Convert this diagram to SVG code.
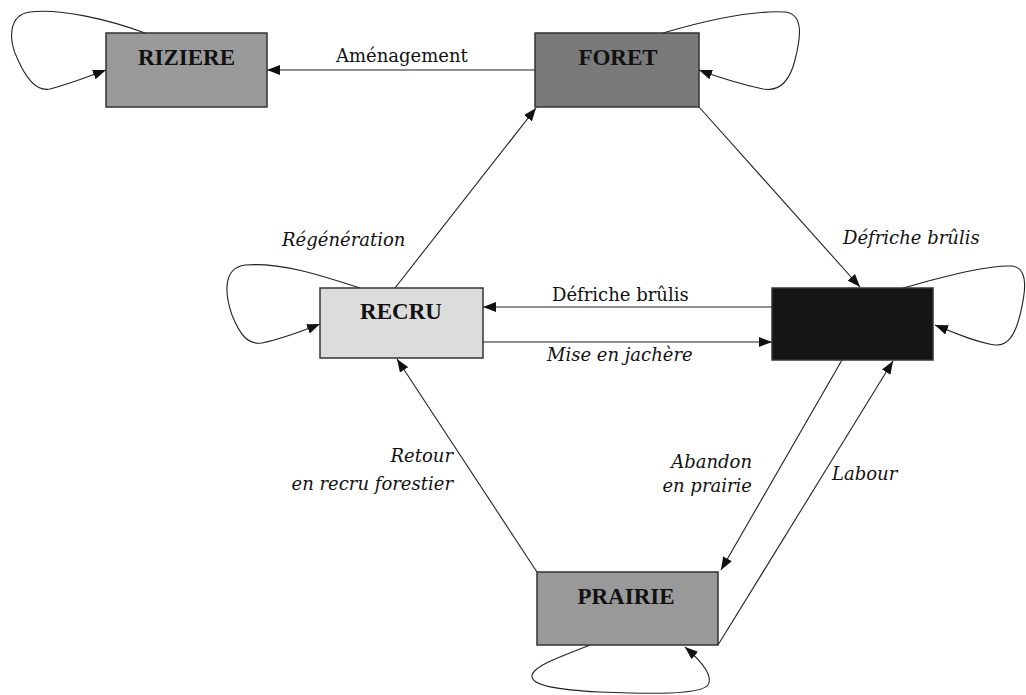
<svg xmlns="http://www.w3.org/2000/svg" width="1026" height="695" viewBox="0 0 1026 695">
<style>
.node rect{stroke:#333;stroke-width:1.5}
.nl{font-family:"Liberation Serif",serif;font-weight:bold;font-size:23px;fill:#111;text-anchor:middle}
.el{font-family:"DejaVu Serif",serif;font-size:18px;fill:#111}
.it{font-style:italic}
.e{fill:none;stroke:#222;stroke-width:1.1;marker-end:url(#ah)}
</style>
<defs>
<marker id="ah" markerUnits="userSpaceOnUse" markerWidth="13" markerHeight="10" refX="13" refY="5" orient="auto">
<path d="M0,0 L13,5 L0,10 z" fill="#111"/>
</marker>
</defs>
<rect width="1026" height="695" fill="#fff"/>
<g id="connectors">
<path class="e" d="M535,70 L267,70"/>
<path class="e" d="M395,288 L536,108"/>
<path class="e" d="M699,107 L860,287"/>
<path class="e" d="M772,307 L483,307"/>
<path class="e" d="M483,342 L772,342"/>
<path class="e" d="M842,360 L721,570"/>
<path class="e" d="M718,645 L893,361"/>
<path class="e" d="M537,572 L397,359"/>
<path class="e" d="M145,33 C110,20 60,8 30,12 C8,15 8,40 18,60 C26,78 36,92 50,89 C70,84 90,76 106,70"/>
<path class="e" d="M663,33 C700,22 750,10 785,12 C805,14 800,40 795,60 C790,80 780,92 763,89 C740,84 715,76 699,70"/>
<path class="e" d="M360,288 C320,275 280,262 245,265 C222,268 225,295 232,315 C240,335 248,345 262,343 C285,338 305,330 320,324"/>
<path class="e" d="M903,288 C940,278 985,265 1012,266 C1030,268 1025,295 1020,315 C1015,335 1008,346 995,345 C975,342 955,333 935,325"/>
<path class="e" d="M590,645 C565,655 535,665 532,675 C530,686 560,690 600,692 C650,694 700,695 708,685 C714,675 700,660 685,647"/>
<text class="el" x="336" y="62">Aménagement</text>
<text class="el it" x="282" y="246">Régénération</text>
<text class="el it" x="843" y="244">Défriche brûlis</text>
<text class="el" x="552" y="301">Défriche brûlis</text>
<text class="el it" x="547" y="361">Mise en jachère</text>
<text class="el it" x="752" y="468" text-anchor="end">Abandon</text>
<text class="el it" x="752" y="492" text-anchor="end">en prairie</text>
<text class="el it" x="832" y="480">Labour</text>
<text class="el it" x="453" y="462" text-anchor="end">Retour</text>
<text class="el it" x="453" y="490" text-anchor="end">en recru forestier</text>
</g>
<g id="riziere" class="node"><rect x="106" y="33" width="161" height="74" fill="#9a9a9a"/><text class="nl" x="186.5" y="65">RIZIERE</text></g>
<g id="foret" class="node"><rect x="535" y="33" width="164" height="74" fill="#7a7a7a"/><text class="nl" x="618" y="65">FORET</text></g>
<g id="recru" class="node"><rect x="320" y="288" width="163" height="70" fill="#dcdcdc"/><text class="nl" x="401" y="319">RECRU</text></g>
<g id="culture" class="node"><rect x="772" y="288" width="161" height="72" fill="#151515"/></g>
<g id="prairie" class="node"><rect x="537" y="572" width="181" height="73" fill="#999"/><text class="nl" x="626" y="604">PRAIRIE</text></g>
</svg>
